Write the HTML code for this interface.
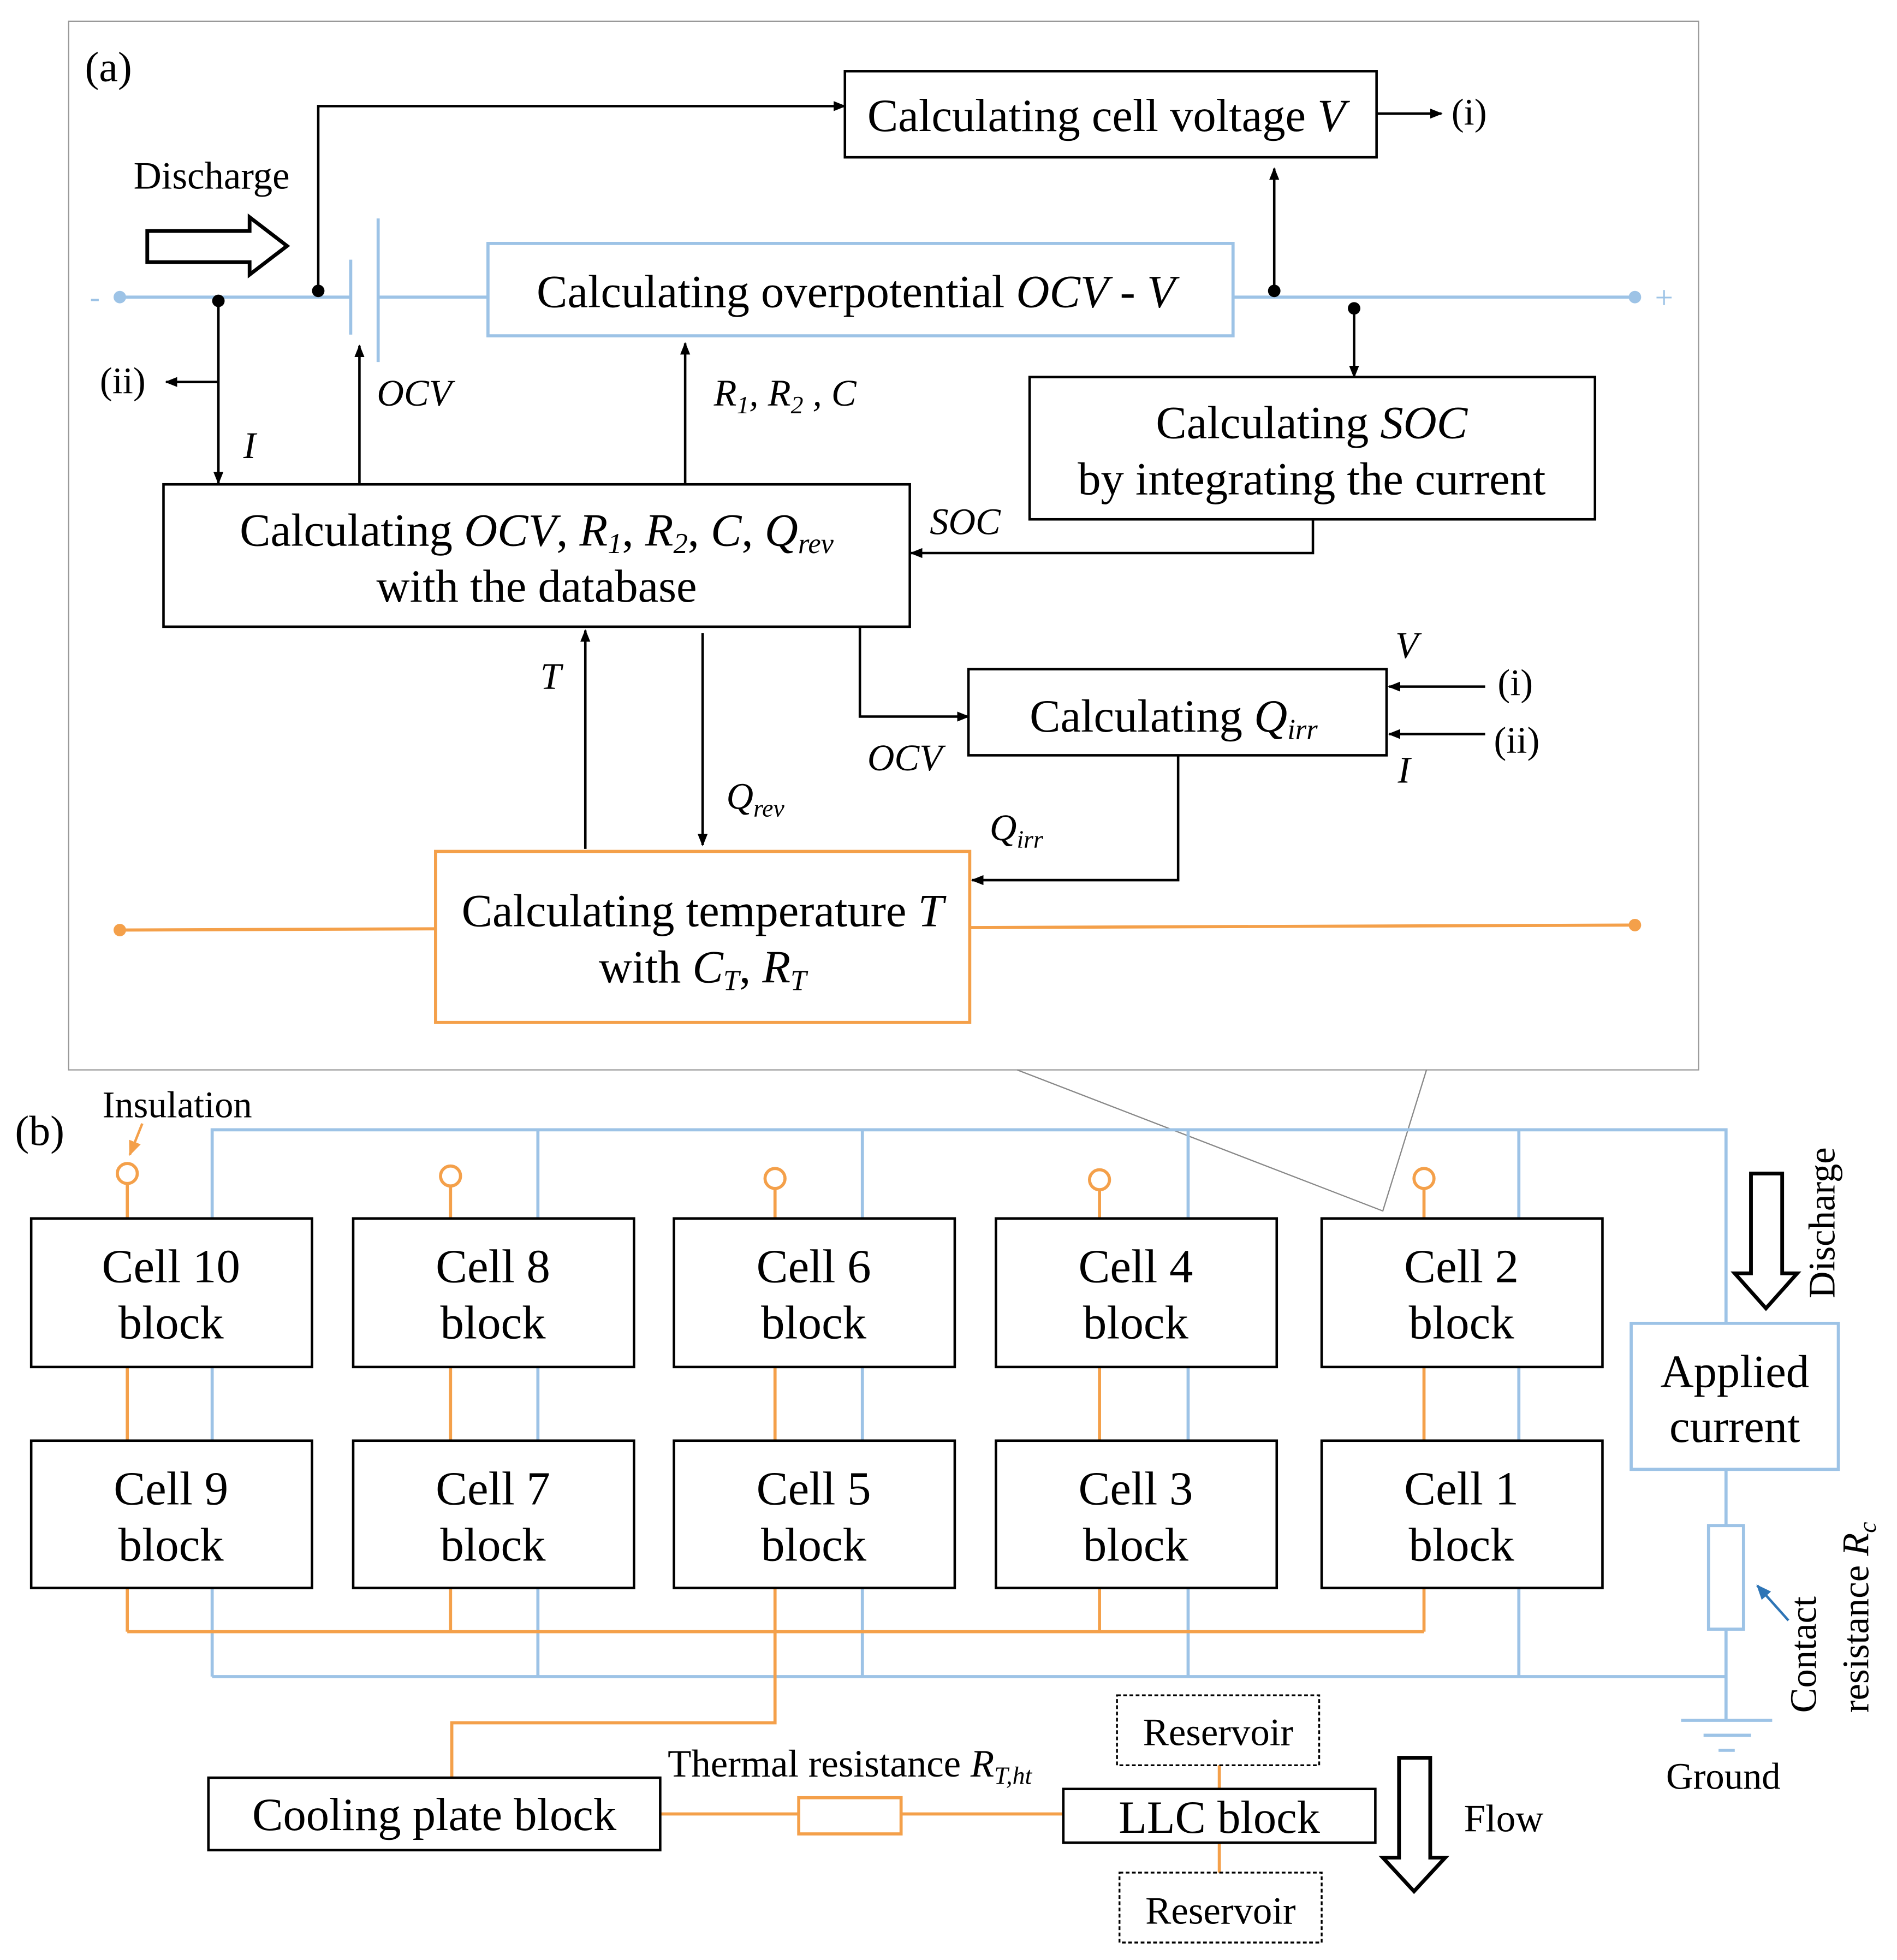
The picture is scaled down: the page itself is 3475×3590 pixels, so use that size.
<!DOCTYPE html>
<html><head><meta charset="utf-8"><style>html,body{margin:0;padding:0;background:#fff}svg{display:block}</style></head>
<body>
<svg xmlns="http://www.w3.org/2000/svg" width="3475" height="3590" viewBox="0 0 1520 1570" preserveAspectRatio="none" font-family="Liberation Serif, serif" font-size="34">
<defs>
<marker id="a" markerWidth="10" markerHeight="8" refX="9" refY="4" orient="auto" markerUnits="userSpaceOnUse"><path d="M0,0 L10,4 L0,8 z" fill="#000"/></marker>
<marker id="ab" markerWidth="12" markerHeight="10" refX="11" refY="5" orient="auto" markerUnits="userSpaceOnUse"><path d="M0,0 L12,5 L0,10 z" fill="#2e75b6"/></marker>
<marker id="ao" markerWidth="12" markerHeight="10" refX="11" refY="5" orient="auto" markerUnits="userSpaceOnUse"><path d="M0,0 L12,5 L0,10 z" fill="#f4a04a"/></marker>
</defs>
<rect width="1520" height="1570" fill="#fff"/>
<rect x="55" y="17" width="1306" height="840" fill="none" stroke="#999" stroke-width="1"/>
<text x="68" y="65">(a)</text>
<g stroke="#9dc3e6" stroke-width="2.5" fill="none">
<line x1="96" y1="238" x2="281" y2="238"/>
<line x1="281" y1="208" x2="281" y2="268"/>
<line x1="303" y1="175" x2="303" y2="290"/>
<line x1="303" y1="238" x2="391" y2="238"/>
<line x1="988" y1="238" x2="1310" y2="238"/>
<rect x="391" y="195" width="597" height="74"/>
</g>
<circle cx="96" cy="238" r="5" fill="#9dc3e6"/><circle cx="1310" cy="238" r="5" fill="#9dc3e6"/>
<text x="72" y="246" fill="#9dc3e6" font-size="24">-</text><text x="1326" y="247" fill="#9dc3e6" font-size="26">+</text>
<text x="430" y="246" font-size="37">Calculating overpotential <tspan font-style="italic">OCV</tspan> - <tspan font-style="italic">V</tspan></text>
<rect x="677" y="57" width="426" height="69" fill="none" stroke="#000" stroke-width="2"/>
<text x="695" y="105" font-size="37">Calculating cell voltage <tspan font-style="italic">V</tspan></text>
<g stroke="#000" stroke-width="2" fill="none">
<line x1="1103" y1="91" x2="1155" y2="91" marker-end="url(#a)"/>
<polyline points="255,233 255,85 677,85" marker-end="url(#a)"/>
<line x1="1021" y1="233" x2="1021" y2="135" marker-end="url(#a)"/>
<line x1="1085" y1="247" x2="1085" y2="302" marker-end="url(#a)"/>
<polyline points="1052,416 1052,443 730,443" marker-end="url(#a)"/>
<line x1="175" y1="241" x2="175" y2="387" marker-end="url(#a)"/>
<line x1="175" y1="306" x2="133" y2="306" marker-end="url(#a)"/>
<line x1="288" y1="387" x2="288" y2="277" marker-end="url(#a)"/>
<line x1="549" y1="387" x2="549" y2="275" marker-end="url(#a)"/>
<line x1="469" y1="680" x2="469" y2="505" marker-end="url(#a)"/>
<line x1="563" y1="507" x2="563" y2="677" marker-end="url(#a)"/>
<polyline points="689,502 689,574 776,574" marker-end="url(#a)"/>
<line x1="1190" y1="550" x2="1113" y2="550" marker-end="url(#a)"/>
<line x1="1190" y1="588" x2="1113" y2="588" marker-end="url(#a)"/>
<polyline points="944,605 944,705 779,705" marker-end="url(#a)"/>
<rect x="825" y="302" width="453" height="114"/>
<rect x="131" y="388" width="598" height="114"/>
<rect x="776" y="536" width="335" height="69"/>
</g>
<circle cx="255" cy="233" r="5"/><circle cx="1021" cy="233" r="5"/><circle cx="1085" cy="247" r="5"/><circle cx="175" cy="241" r="5"/>
<text x="1163" y="100" font-size="30">(i)</text>
<text x="107" y="151" font-size="31">Discharge</text>
<polygon points="118,185 200,185 200,174 230,197 200,220 200,210 118,210" fill="none" stroke="#000" stroke-width="3"/>
<text x="1051" y="351" text-anchor="middle" font-size="37">Calculating <tspan font-style="italic">SOC</tspan></text>
<text x="1051" y="396" text-anchor="middle" font-size="37">by integrating the current</text>
<text x="745" y="428" font-style="italic" font-size="30">SOC</text>
<text x="80" y="315" font-size="30">(ii)</text>
<text x="195" y="367" font-style="italic" font-size="30">I</text>
<text x="302" y="325" font-style="italic" font-size="30">OCV</text>
<text x="572" y="325" font-style="italic" font-size="30">R<tspan font-size="20" dy="6">1</tspan><tspan dy="-6">, R</tspan><tspan font-size="20" dy="6">2</tspan><tspan dy="-6"> , C</tspan></text>
<text x="430" y="437" text-anchor="middle" font-size="37">Calculating <tspan font-style="italic">OCV</tspan>, <tspan font-style="italic">R<tspan font-size="23" dy="6">1</tspan></tspan><tspan dy="-6">, </tspan><tspan font-style="italic">R<tspan font-size="23" dy="6">2</tspan></tspan><tspan dy="-6">, </tspan><tspan font-style="italic">C</tspan>, <tspan font-style="italic">Q<tspan font-size="23" dy="6">rev</tspan></tspan></text>
<text x="430" y="482" text-anchor="middle" font-size="37">with the database</text>
<text x="433" y="552" font-style="italic" font-size="30">T</text>
<text x="582" y="648" font-style="italic" font-size="30">Q<tspan font-size="20" dy="6">rev</tspan></text>
<text x="695" y="617" font-style="italic" font-size="30">OCV</text>
<text x="825" y="586" font-size="37">Calculating <tspan font-style="italic">Q<tspan font-size="23" dy="6">irr</tspan></tspan></text>
<text x="1118" y="527" font-style="italic" font-size="30">V</text>
<text x="1120" y="627" font-style="italic" font-size="30">I</text>
<text x="1200" y="557" font-size="30">(i)</text><text x="1197" y="603" font-size="30">(ii)</text>
<text x="793" y="673" font-style="italic" font-size="30">Q<tspan font-size="20" dy="6">irr</tspan></text>
<g stroke="#f4a04a" stroke-width="2.5" fill="none">
<rect x="349" y="682" width="428" height="137"/>
<line x1="96" y1="745" x2="349" y2="744"/>
<line x1="777" y1="743" x2="1310" y2="741"/>
</g>
<circle cx="96" cy="745" r="5" fill="#f4a04a"/><circle cx="1310" cy="741" r="5" fill="#f4a04a"/>
<text x="563" y="742" text-anchor="middle" font-size="37">Calculating temperature <tspan font-style="italic">T</tspan></text>
<text x="563" y="787" text-anchor="middle" font-size="37">with <tspan font-style="italic">C<tspan font-size="23" dy="6">T</tspan></tspan><tspan dy="-6">, </tspan><tspan font-style="italic">R<tspan font-size="23" dy="6">T</tspan></tspan></text>
<polyline points="815,857 1108,970 1143,857" fill="none" stroke="#888" stroke-width="1"/>
<text x="12" y="917">(b)</text>
<text x="82" y="895" font-size="30">Insulation</text>
<line x1="114" y1="900" x2="104" y2="925" stroke="#f4a04a" stroke-width="2" marker-end="url(#ao)"/>
<g stroke="#9dc3e6" stroke-width="2.5" fill="none">
<polyline points="170,1343 170,905 1383,905 1383,1060"/>
<line x1="431" y1="905" x2="431" y2="1343"/>
<line x1="691" y1="905" x2="691" y2="1343"/>
<line x1="952" y1="905" x2="952" y2="1343"/>
<line x1="1217" y1="905" x2="1217" y2="1343"/>
<polyline points="170,1343 1383,1343"/>
<rect x="1307" y="1060" width="166" height="117"/>
<line x1="1383" y1="1177" x2="1383" y2="1222"/>
<rect x="1369" y="1222" width="28" height="83"/>
<line x1="1383" y1="1305" x2="1383" y2="1378"/>
<line x1="1347" y1="1378" x2="1420" y2="1378"/>
<line x1="1365" y1="1390" x2="1403" y2="1390"/>
<line x1="1377" y1="1402" x2="1390" y2="1402"/>
</g>
<line x1="1433" y1="1298" x2="1408" y2="1270" stroke="#2e75b6" stroke-width="2" marker-end="url(#ab)"/>
<text x="1390" y="1111" text-anchor="middle" font-size="37">Applied</text><text x="1390" y="1155" text-anchor="middle" font-size="37">current</text>
<text x="1335" y="1433" font-size="30">Ground</text>
<text transform="translate(1455,1372) rotate(-90)" font-size="30">Contact</text>
<text transform="translate(1497,1372) rotate(-90)" font-size="30">resistance <tspan font-style="italic">R<tspan font-size="20" dy="6">c</tspan></tspan></text>
<polygon points="1403,940 1428,940 1428,1020 1440,1020 1415,1048 1390,1020 1403,1020" fill="none" stroke="#000" stroke-width="3"/>
<text transform="translate(1470,1040) rotate(-90)" font-size="30">Discharge</text>
<g stroke="#f4a04a" stroke-width="2.5" fill="none">
<polyline points="102,948 102,976"/><polyline points="361,950 361,976"/><polyline points="621,952 621,976"/><polyline points="881,953 881,976"/><polyline points="1141,952 1141,976"/>
<line x1="102" y1="1095" x2="102" y2="1154"/><line x1="361" y1="1095" x2="361" y2="1154"/><line x1="621" y1="1095" x2="621" y2="1154"/><line x1="881" y1="1095" x2="881" y2="1154"/><line x1="1141" y1="1095" x2="1141" y2="1154"/>
<line x1="102" y1="1272" x2="102" y2="1307"/><line x1="361" y1="1272" x2="361" y2="1307"/><line x1="881" y1="1272" x2="881" y2="1307"/><line x1="1141" y1="1272" x2="1141" y2="1307"/>
<line x1="102" y1="1307" x2="1141" y2="1307"/>
<polyline points="621,1272 621,1380 362,1380 362,1424"/>
<circle cx="102" cy="940" r="8"/><circle cx="361" cy="942" r="8"/><circle cx="621" cy="944" r="8"/><circle cx="881" cy="945" r="8"/><circle cx="1141" cy="944" r="8"/>
<line x1="529" y1="1453" x2="640" y2="1453"/><rect x="640" y="1440" width="82" height="29"/><line x1="722" y1="1453" x2="852" y2="1453"/>
<line x1="977" y1="1414" x2="977" y2="1433"/><line x1="977" y1="1476" x2="977" y2="1500"/>
</g>
<g stroke="#000" stroke-width="2" fill="#fff">
<rect x="25" y="976" width="225" height="119"/><rect x="283" y="976" width="225" height="119"/><rect x="540" y="976" width="225" height="119"/><rect x="798" y="976" width="225" height="119"/><rect x="1059" y="976" width="225" height="119"/>
<rect x="25" y="1154" width="225" height="118"/><rect x="283" y="1154" width="225" height="118"/><rect x="540" y="1154" width="225" height="118"/><rect x="798" y="1154" width="225" height="118"/><rect x="1059" y="1154" width="225" height="118"/>
<rect x="167" y="1424" width="362" height="58"/>
<rect x="852" y="1433" width="250" height="43"/>
</g>
<g stroke="#000" stroke-width="1.5" fill="none" stroke-dasharray="3,2">
<rect x="895" y="1358" width="162" height="56"/><rect x="897" y="1500" width="162" height="56"/>
</g>
<g text-anchor="middle" font-size="38">
<text x="137" y="1027">Cell 10</text><text x="137" y="1072">block</text>
<text x="395" y="1027">Cell 8</text><text x="395" y="1072">block</text>
<text x="652" y="1027">Cell 6</text><text x="652" y="1072">block</text>
<text x="910" y="1027">Cell 4</text><text x="910" y="1072">block</text>
<text x="1171" y="1027">Cell 2</text><text x="1171" y="1072">block</text>
<text x="137" y="1205">Cell 9</text><text x="137" y="1250">block</text>
<text x="395" y="1205">Cell 7</text><text x="395" y="1250">block</text>
<text x="652" y="1205">Cell 5</text><text x="652" y="1250">block</text>
<text x="910" y="1205">Cell 3</text><text x="910" y="1250">block</text>
<text x="1171" y="1205">Cell 1</text><text x="1171" y="1250">block</text>
</g>
<g text-anchor="middle" font-size="37">
<text x="348" y="1466">Cooling plate block</text>
<text x="977" y="1468">LLC block</text>
</g>
<text x="976" y="1398" text-anchor="middle" font-size="31">Reservoir</text>
<text x="978" y="1541" text-anchor="middle" font-size="31">Reservoir</text>
<text x="535" y="1423" font-size="31">Thermal  resistance  <tspan font-style="italic">R<tspan font-size="20" dy="6">T,ht</tspan></tspan></text>
<polygon points="1121,1408 1146,1408 1146,1488 1158,1488 1133,1515 1108,1488 1121,1488" fill="none" stroke="#000" stroke-width="3"/>
<text x="1173" y="1467" font-size="31">Flow</text>
</svg>
</body></html>
